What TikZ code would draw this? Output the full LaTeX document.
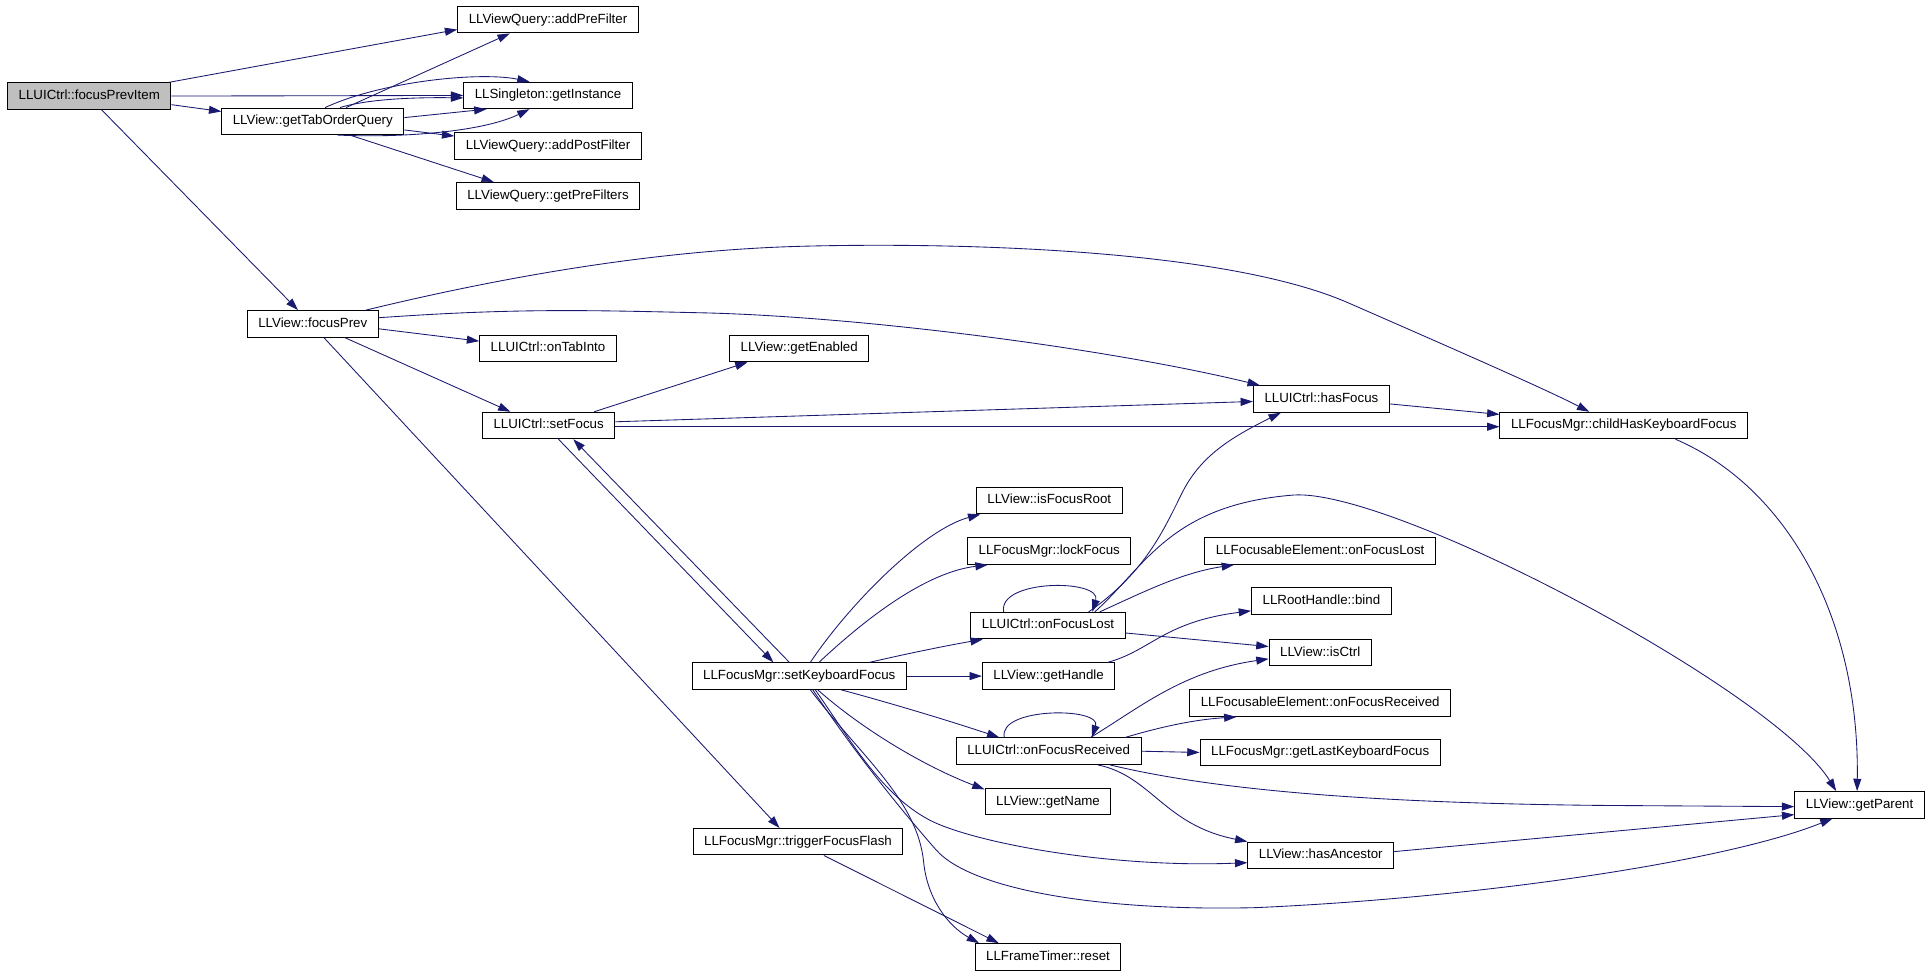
\documentclass[tikz,border=0pt]{standalone}
\usepackage{fontspec}
\setmainfont{Liberation Sans}
\usetikzlibrary{arrows.meta}
\definecolor{edgeblue}{HTML}{191970}
\begin{document}
\begin{tikzpicture}[x=1pt,y=-1pt,
    fn/.style={draw=black,fill=white,line width=0.8pt,inner xsep=9pt,inner ysep=0pt,
        minimum height=21.5pt,text height=7.7pt,text depth=2.2pt,
        font=\fontsize{10.8}{13}\selectfont},
    call/.style={draw=edgeblue,line width=0.7pt,-{Triangle[length=10pt,width=6.5pt]}}]
    \useasboundingbox (0,0) rectangle (1568,792);
    %% caller and first rank
    \node[fn,fill=black!25] (focusPrevItem) at (72.5,78) {LLUICtrl::focusPrevItem};
    \node[fn] (getTabOrderQuery) at (254,98.5) {LLView::getTabOrderQuery};
    \node[fn] (focusPrev) at (254,263) {LLView::focusPrev};
    %% view query
    \node[fn] (addPreFilter) at (445,16) {LLViewQuery::addPreFilter};
    \node[fn] (getInstance) at (445,77.5) {LLSingleton::getInstance};
    \node[fn] (addPostFilter) at (445,118.5) {LLViewQuery::addPostFilter};
    \node[fn] (getPreFilters) at (445,159) {LLViewQuery::getPreFilters};
    \node[fn] (onTabInto) at (445,283) {LLUICtrl::onTabInto};
    \node[fn] (setFocus) at (445.5,345.5) {LLUICtrl::setFocus};
    %% focus manager
    \node[fn] (getEnabled) at (649,283) {LLView::getEnabled};
    \node[fn] (setKbFocus) at (649,549) {LLFocusMgr::setKeyboardFocus};
    \node[fn] (triggerFlash) at (648,683.5) {LLFocusMgr::triggerFocusFlash};
    \node[fn] (isFocusRoot) at (852,406.5) {LLView::isFocusRoot};
    \node[fn] (lockFocus) at (852,447.5) {LLFocusMgr::lockFocus};
    \node[fn] (onFocusLost) at (851,508) {LLUICtrl::onFocusLost};
    \node[fn] (getHandle) at (851.5,549) {LLView::getHandle};
    \node[fn] (onFocusRecv) at (851.5,610) {LLUICtrl::onFocusReceived};
    \node[fn] (getName) at (851,651) {LLView::getName};
    \node[fn] (reset) at (851,777) {LLFrameTimer::reset};
    \node[fn] (hasFocus) at (1073,324) {LLUICtrl::hasFocus};
    \node[fn] (elemFocusLost) at (1072,447.5) {LLFocusableElement::onFocusLost};
    \node[fn] (bind) at (1073,488) {LLRootHandle::bind};
    \node[fn] (isCtrl) at (1072,530) {LLView::isCtrl};
    \node[fn] (elemFocusRecv) at (1072,571) {LLFocusableElement::onFocusReceived};
    \node[fn] (getLastKbFocus) at (1072,611) {LLFocusMgr::getLastKeyboardFocus};
    \node[fn] (hasAncestor) at (1072.5,694.5) {LLView::hasAncestor};
    \node[fn] (childHasKbFocus) at (1318.5,345.5) {LLFocusMgr::childHasKeyboardFocus};
    \node[fn] (getParent) at (1510,653.5) {LLView::getParent};
    %% focusPrevItem
    \draw[call] ([xshift=-2pt]focusPrevItem.north east) -- ([yshift=-8pt]addPreFilter.west);
    \draw[call] (focusPrevItem.east) -- (getInstance.west);
    \draw[call] ([yshift=-7pt]focusPrevItem.east) -- ([yshift=8pt]getTabOrderQuery.west);
    \draw[call] ([xshift=10pt]focusPrevItem.south) -- ([xshift=-12pt]focusPrev.north);
    %% getTabOrderQuery
    \draw[call] ([xshift=27pt]getTabOrderQuery.north) -- ([xshift=-31pt]addPreFilter.south);
    \draw[call] ([xshift=10pt]getTabOrderQuery.north) .. controls (310,66) and (390,58) .. ([xshift=-15pt]getInstance.north);
    \draw[call] ([xshift=22pt]getTabOrderQuery.north) .. controls (300,80) and (340,79) .. ([yshift=-2pt]getInstance.west);
    \draw[call] ([yshift=3pt]getTabOrderQuery.east) -- ([xshift=-50pt]getInstance.south);
    \draw[call] ([xshift=20pt]getTabOrderQuery.south) .. controls (320,112) and (390,108) .. ([xshift=-15pt]getInstance.south);
    \draw[call] ([yshift=-7pt]getTabOrderQuery.east) -- ([yshift=8pt]addPostFilter.west);
    \draw[call] ([xshift=30pt]getTabOrderQuery.south) -- ([xshift=-44pt]getPreFilters.north);
    %% focusPrev
    \draw[call] ([xshift=43pt]focusPrev.north) .. controls (420,222) and (540,203) .. (650,200)
        .. controls (760,197) and (990,200) .. (1095,246)
        .. controls (1175,281) and (1255,316) .. ([xshift=-28pt]childHasKbFocus.north);
    \draw[call] ([yshift=5pt]focusPrev.east) .. controls (420,250) and (480,252) .. (570,254)
        .. controls (700,257) and (900,283) .. ([xshift=-50pt]hasFocus.north);
    \draw[call] ([yshift=-4pt]focusPrev.east) -- ([yshift=6pt]onTabInto.west);
    \draw[call] ([xshift=26pt]focusPrev.south) -- ([xshift=-31pt]setFocus.north);
    \draw[call] ([xshift=9pt]focusPrev.south) -- ([xshift=-15pt]triggerFlash.north);
    %% setFocus
    \draw[call] ([xshift=37pt]setFocus.north) -- ([xshift=-42pt]getEnabled.south);
    \draw[call] ([yshift=3pt]setFocus.east) -- ([yshift=-2pt]hasFocus.west);
    \draw[call] ([yshift=-1pt]setFocus.east) -- ([yshift=-1pt]childHasKbFocus.west);
    \draw[call] ([xshift=8pt]setFocus.south) -- ([xshift=-21pt]setKbFocus.north);
    \draw[call] ([xshift=-8pt]setKbFocus.north) -- ([xshift=20pt]setFocus.south);
    %% hasFocus, childHasKeyboardFocus
    \draw[call] ([yshift=-4pt]hasFocus.east) -- ([yshift=9pt]childHasKbFocus.west);
    \draw[call] ([xshift=42pt]childHasKbFocus.south) .. controls (1450,395) and (1510,500) .. ([xshift=-2pt]getParent.north);
    %% setKeyboardFocus
    \draw[call] ([xshift=9pt]setKbFocus.north) .. controls (690,490) and (750,430) .. ([xshift=-56pt]isFocusRoot.south);
    \draw[call] ([xshift=16pt]setKbFocus.north) .. controls (700,505) and (750,465) .. ([xshift=-50pt]lockFocus.south);
    \draw[call] ([xshift=57pt]setKbFocus.north) .. controls (740,530) and (770,524) .. ([xshift=-53pt]onFocusLost.south);
    \draw[call] (setKbFocus.east) -- (getHandle.west);
    \draw[call] ([xshift=34pt]setKbFocus.south) .. controls (720,570) and (770,585) .. ([xshift=-40pt]onFocusRecv.north);
    \draw[call] ([xshift=15pt]setKbFocus.south) .. controls (700,592) and (750,622) .. ([yshift=10pt]getName.west);
    \draw[call] ([xshift=13pt]setKbFocus.south) .. controls (690,600) and (715,645) .. (755,666)
        .. controls (790,684) and (900,705) .. ([yshift=-6pt]hasAncestor.west);
    \draw[call] ([xshift=11pt]setKbFocus.south) .. controls (690,605) and (725,650) .. (760,690)
        .. controls (790,724) and (900,740) .. (1020,737)
        .. controls (1200,729) and (1400,700) .. ([xshift=-22pt]getParent.south);
    \draw[call] ([xshift=9pt]setKbFocus.south) .. controls (700,615) and (745,650) .. (750,700)
        .. controls (753,730) and (770,752) .. ([xshift=-56pt]reset.north);
    \draw[call] ([xshift=21pt]triggerFlash.south) -- ([xshift=-40pt]reset.north);
    %% onFocusLost
    \draw[call] ([xshift=-36pt]onFocusLost.north) .. controls (810,470) and (895,470) .. ([xshift=36pt]onFocusLost.north);
    \draw[call] ([xshift=33pt]onFocusLost.north) .. controls (930,465) and (945,430) .. (960,400)
        .. controls (975,370) and (1000,355) .. ([xshift=-33pt]hasFocus.south);
    \draw[call] ([xshift=38pt]onFocusLost.north) .. controls (930,460) and (950,410) .. (1050,402)
        .. controls (1130,396) and (1440,560) .. ([xshift=-19pt]getParent.north);
    \draw[call] ([xshift=42pt]onFocusLost.north) .. controls (930,480) and (960,465) .. ([xshift=-70pt]elemFocusLost.south);
    \draw[call] ([yshift=-6pt]onFocusLost.east) -- ([yshift=5pt]isCtrl.west);
    %% getHandle
    \draw[call] ([xshift=48pt]getHandle.north) .. controls (935,528) and (945,505) .. ([yshift=-8pt]bind.west);
    %% onFocusReceived
    \draw[call] ([xshift=-36pt]onFocusRecv.north) .. controls (810,574) and (895,574) .. ([xshift=35pt]onFocusRecv.north);
    \draw[call] ([xshift=34pt]onFocusRecv.north) .. controls (925,575) and (960,545) .. ([yshift=-5pt]isCtrl.west);
    \draw[call] ([xshift=62pt]onFocusRecv.north) .. controls (950,588) and (975,584) .. ([xshift=-68pt]elemFocusRecv.south);
    \draw[call] (onFocusRecv.east) -- (getLastKbFocus.west);
    \draw[call] ([xshift=50pt]onFocusRecv.south) .. controls (980,640) and (1100,652) .. (1300,654) -- ([yshift=-1.5pt]getParent.west);
    \draw[call] ([xshift=40pt]onFocusRecv.south) .. controls (935,630) and (945,670) .. (hasAncestor.north west);
    %% hasAncestor
    \draw[call] ([yshift=3pt]hasAncestor.east) -- ([yshift=-8pt]getParent.west);
\end{tikzpicture}
\end{document}
